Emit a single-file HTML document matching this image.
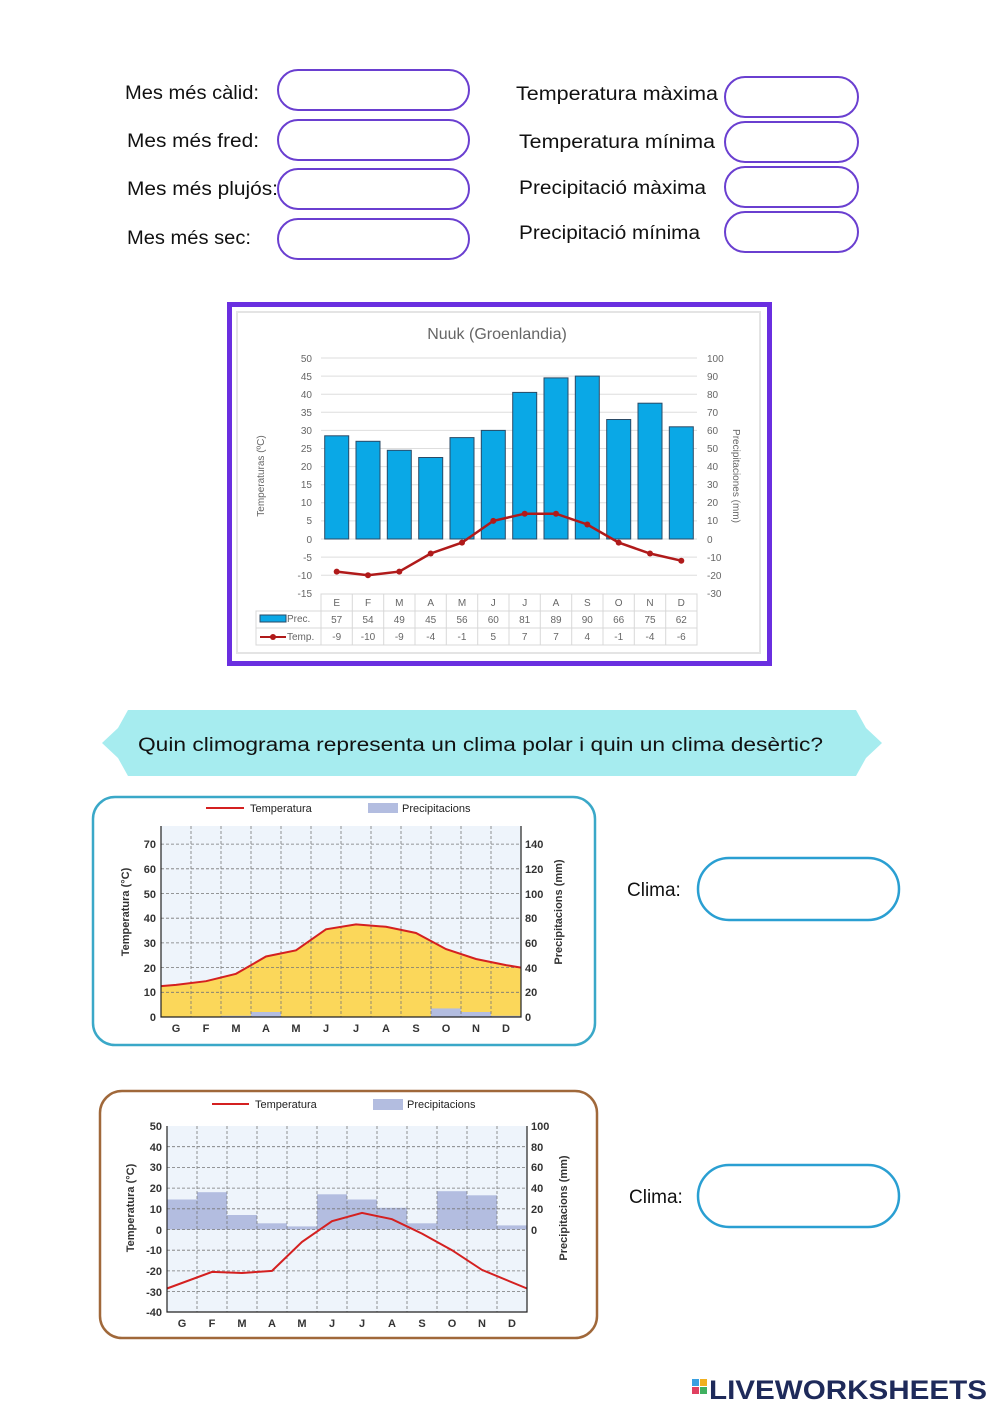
<!DOCTYPE html>
<html><head><meta charset="utf-8"><style>
html,body{margin:0;padding:0;background:#fff;}
svg{display:block;}
.h{font-family:"Liberation Sans",sans-serif;font-size:19px;fill:#111;}
.t{font-family:"Liberation Sans",sans-serif;font-size:10px;fill:#666;}
.b{font-family:"Liberation Sans",sans-serif;font-size:11px;font-weight:bold;fill:#333;}
</style></head><body>
<svg width="999" height="1415" viewBox="0 0 999 1415" xmlns="http://www.w3.org/2000/svg">
<rect width="999" height="1415" fill="#fff"/>
<!-- form -->
<g fill="none" stroke="#6a3fd0" stroke-width="2">
<rect x="278" y="70" width="191" height="40" rx="20"/>
<rect x="278" y="120" width="191" height="40" rx="20"/>
<rect x="278" y="169" width="191" height="40" rx="20"/>
<rect x="278" y="219" width="191" height="40" rx="20"/>
<rect x="725" y="77" width="133" height="40" rx="20"/>
<rect x="725" y="122" width="133" height="40" rx="20"/>
<rect x="725" y="167" width="133" height="40" rx="20"/>
<rect x="725" y="212" width="133" height="40" rx="20"/>
</g>
<text class="h" x="125" y="99" textLength="134" lengthAdjust="spacingAndGlyphs">Mes més càlid:</text>
<text class="h" x="127" y="147" textLength="132" lengthAdjust="spacingAndGlyphs">Mes més fred:</text>
<text class="h" x="127" y="195" textLength="151" lengthAdjust="spacingAndGlyphs">Mes més plujós:</text>
<text class="h" x="127" y="244" textLength="124" lengthAdjust="spacingAndGlyphs">Mes més sec:</text>
<text class="h" x="516" y="100" textLength="202" lengthAdjust="spacingAndGlyphs">Temperatura màxima</text>
<text class="h" x="519" y="148" textLength="196" lengthAdjust="spacingAndGlyphs">Temperatura mínima</text>
<text class="h" x="519" y="194" textLength="187" lengthAdjust="spacingAndGlyphs">Precipitació màxima</text>
<text class="h" x="519" y="239" textLength="181" lengthAdjust="spacingAndGlyphs">Precipitació mínima</text>

<!-- Nuuk chart -->
<rect x="229.5" y="304.5" width="540" height="359" fill="#fff" stroke="#6a2fe0" stroke-width="5"/>
<rect x="237" y="312" width="523" height="341" fill="none" stroke="#e4e4e4" stroke-width="2"/>
<text x="497" y="339" text-anchor="middle" font-family="Liberation Sans,sans-serif" font-size="16" fill="#666">Nuuk (Groenlandia)</text>
<g stroke="#dedede" stroke-width="1">
<line x1="321" x2="697" y1="358" y2="358"/><line x1="321" x2="697" y1="376.1" y2="376.1"/><line x1="321" x2="697" y1="394.2" y2="394.2"/><line x1="321" x2="697" y1="412.3" y2="412.3"/><line x1="321" x2="697" y1="430.4" y2="430.4"/><line x1="321" x2="697" y1="448.5" y2="448.5"/><line x1="321" x2="697" y1="466.6" y2="466.6"/><line x1="321" x2="697" y1="484.7" y2="484.7"/><line x1="321" x2="697" y1="502.8" y2="502.8"/><line x1="321" x2="697" y1="520.9" y2="520.9"/><line x1="321" x2="697" y1="539" y2="539"/><line x1="321" x2="697" y1="557.1" y2="557.1"/><line x1="321" x2="697" y1="575.2" y2="575.2"/>
</g>
<g class="t" text-anchor="end">
<text x="312" y="362">50</text><text x="312" y="380">45</text><text x="312" y="398">40</text><text x="312" y="416">35</text><text x="312" y="434">30</text><text x="312" y="452">25</text><text x="312" y="470">20</text><text x="312" y="488">15</text><text x="312" y="506">10</text><text x="312" y="524">5</text><text x="312" y="543">0</text><text x="312" y="561">-5</text><text x="312" y="579">-10</text><text x="312" y="597">-15</text>
</g>
<g class="t" text-anchor="start">
<text x="707" y="362">100</text><text x="707" y="380">90</text><text x="707" y="398">80</text><text x="707" y="416">70</text><text x="707" y="434">60</text><text x="707" y="452">50</text><text x="707" y="470">40</text><text x="707" y="488">30</text><text x="707" y="506">20</text><text x="707" y="524">10</text><text x="707" y="543">0</text><text x="707" y="561">-10</text><text x="707" y="579">-20</text><text x="707" y="597">-30</text>
</g>
<text class="t" transform="translate(264,476) rotate(-90)" text-anchor="middle" font-size="11">Temperaturas (ºC)</text>
<text class="t" transform="translate(733,476) rotate(90)" text-anchor="middle" font-size="11">Precipitaciones (mm)</text>
<g fill="#0aa8e6" stroke="#2a4a66" stroke-width="1">
<rect x="324.7" y="435.8" width="24" height="103.2"/><rect x="356" y="441.3" width="24" height="97.7"/><rect x="387.3" y="450.3" width="24" height="88.7"/><rect x="418.7" y="457.5" width="24" height="81.5"/><rect x="450" y="437.6" width="24" height="101.4"/><rect x="481.3" y="430.4" width="24" height="108.6"/><rect x="512.7" y="392.4" width="24" height="146.6"/><rect x="544" y="377.9" width="24" height="161.1"/><rect x="575.3" y="376.1" width="24" height="162.9"/><rect x="606.7" y="419.5" width="24" height="119.5"/><rect x="638" y="403.2" width="24" height="135.8"/><rect x="669.3" y="426.8" width="24" height="112.2"/>
</g>
<polyline fill="none" stroke="#b01a1a" stroke-width="2.5" points="336.7,571.6 368,575.2 399.3,571.6 430.7,553.5 462,542.6 493.3,520.9 524.7,513.7 556,513.7 587.3,524.5 618.7,542.6 650,553.5 681.3,560.7"/>
<g fill="#b01a1a">
<circle cx="336.7" cy="571.6" r="3"/><circle cx="368" cy="575.2" r="3"/><circle cx="399.3" cy="571.6" r="3"/><circle cx="430.7" cy="553.5" r="3"/><circle cx="462" cy="542.6" r="3"/><circle cx="493.3" cy="520.9" r="3"/><circle cx="524.7" cy="513.7" r="3"/><circle cx="556" cy="513.7" r="3"/><circle cx="587.3" cy="524.5" r="3"/><circle cx="618.7" cy="542.6" r="3"/><circle cx="650" cy="553.5" r="3"/><circle cx="681.3" cy="560.7" r="3"/>
</g>
<!-- table -->
<g stroke="#d8d8d8" stroke-width="1" fill="none">
<rect x="321" y="594" width="376" height="51"/>
<line x1="256" y1="611" x2="697" y2="611"/><line x1="256" y1="628" x2="697" y2="628"/>
<rect x="256" y="611" width="65" height="34"/>
<line x1="352.3" y1="594" x2="352.3" y2="645"/><line x1="383.7" y1="594" x2="383.7" y2="645"/><line x1="415" y1="594" x2="415" y2="645"/><line x1="446.3" y1="594" x2="446.3" y2="645"/><line x1="477.7" y1="594" x2="477.7" y2="645"/><line x1="509" y1="594" x2="509" y2="645"/><line x1="540.3" y1="594" x2="540.3" y2="645"/><line x1="571.7" y1="594" x2="571.7" y2="645"/><line x1="603" y1="594" x2="603" y2="645"/><line x1="634.3" y1="594" x2="634.3" y2="645"/><line x1="665.7" y1="594" x2="665.7" y2="645"/>
</g>
<rect x="260" y="615" width="26" height="7" fill="#0aa8e6" stroke="#2a4a66"/>
<text class="t" x="287" y="622">Prec.</text>
<line x1="260" y1="637" x2="286" y2="637" stroke="#b01a1a" stroke-width="2"/><circle cx="273" cy="637" r="3" fill="#b01a1a"/>
<text class="t" x="287" y="640">Temp.</text>
<g class="t" text-anchor="middle">
<text x="336.7" y="606">E</text><text x="368" y="606">F</text><text x="399.3" y="606">M</text><text x="430.7" y="606">A</text><text x="462" y="606">M</text><text x="493.3" y="606">J</text><text x="524.7" y="606">J</text><text x="556" y="606">A</text><text x="587.3" y="606">S</text><text x="618.7" y="606">O</text><text x="650" y="606">N</text><text x="681.3" y="606">D</text>
<text x="336.7" y="623">57</text><text x="368" y="623">54</text><text x="399.3" y="623">49</text><text x="430.7" y="623">45</text><text x="462" y="623">56</text><text x="493.3" y="623">60</text><text x="524.7" y="623">81</text><text x="556" y="623">89</text><text x="587.3" y="623">90</text><text x="618.7" y="623">66</text><text x="650" y="623">75</text><text x="681.3" y="623">62</text>
<text x="336.7" y="640">-9</text><text x="368" y="640">-10</text><text x="399.3" y="640">-9</text><text x="430.7" y="640">-4</text><text x="462" y="640">-1</text><text x="493.3" y="640">5</text><text x="524.7" y="640">7</text><text x="556" y="640">7</text><text x="587.3" y="640">4</text><text x="618.7" y="640">-1</text><text x="650" y="640">-4</text><text x="681.3" y="640">-6</text>
</g>

<!-- banner -->
<path d="M128,710 L856,710 L866,728 L882,743 L866,758 L856,776 L128,776 L118,758 L102,743 L118,728 Z" fill="#a6ecef"/>
<text class="h" x="138" y="751" font-size="21" textLength="685" lengthAdjust="spacingAndGlyphs">Quin climograma representa un clima polar i quin un clima desèrtic?</text>

<!-- chart 2 -->
<rect x="93" y="797" width="502" height="248" rx="22" fill="#fff" stroke="#3aa8c8" stroke-width="2.5"/>
<rect x="161" y="826" width="360" height="191" fill="#eef4fb"/>
<path d="M161,986.1 L176,984.9 206,981.2 236,973.8 266,956.5 296,950.3 326,929.3 356,924.4 386,926.8 416,933 446,949.1 476,959 506,965.1 521,967.6 L521,1017 L161,1017 Z" fill="#fbd75a"/>
<g fill="#b3bde0">
<rect x="221" y="1015.8" width="30" height="1.2"/><rect x="251" y="1012" width="30" height="5"/><rect x="431" y="1008.4" width="30" height="8.6"/><rect x="461" y="1012" width="30" height="5"/><rect x="491" y="1015.8" width="30" height="1.2"/>
</g>
<g stroke="#777" stroke-width="0.8" stroke-dasharray="3,2">
<line x1="191" y1="826" x2="191" y2="1017"/><line x1="221" y1="826" x2="221" y2="1017"/><line x1="251" y1="826" x2="251" y2="1017"/><line x1="281" y1="826" x2="281" y2="1017"/><line x1="311" y1="826" x2="311" y2="1017"/><line x1="341" y1="826" x2="341" y2="1017"/><line x1="371" y1="826" x2="371" y2="1017"/><line x1="401" y1="826" x2="401" y2="1017"/><line x1="431" y1="826" x2="431" y2="1017"/><line x1="461" y1="826" x2="461" y2="1017"/><line x1="491" y1="826" x2="491" y2="1017"/>
<line x1="161" y1="992.3" x2="521" y2="992.3"/><line x1="161" y1="967.6" x2="521" y2="967.6"/><line x1="161" y1="942.9" x2="521" y2="942.9"/><line x1="161" y1="918.2" x2="521" y2="918.2"/><line x1="161" y1="893.5" x2="521" y2="893.5"/><line x1="161" y1="868.8" x2="521" y2="868.8"/><line x1="161" y1="844.1" x2="521" y2="844.1"/>
</g>
<polyline fill="none" stroke="#d42020" stroke-width="2" points="161,986.1 176,984.9 206,981.2 236,973.8 266,956.5 296,950.3 326,929.3 356,924.4 386,926.8 416,933 446,949.1 476,959 506,965.1 521,967.6"/>
<path d="M161,826 V1017 H521 V826" fill="none" stroke="#222" stroke-width="1.2"/>
<line x1="206" y1="808" x2="244" y2="808" stroke="#d42020" stroke-width="2"/>
<text x="250" y="812" font-family="Liberation Sans,sans-serif" font-size="11" fill="#222">Temperatura</text>
<rect x="368" y="803" width="30" height="10" fill="#b3bde0"/>
<text x="402" y="812" font-family="Liberation Sans,sans-serif" font-size="11" fill="#222">Precipitacions</text>
<g class="b" text-anchor="end">
<text x="156" y="1021">0</text><text x="156" y="996">10</text><text x="156" y="972">20</text><text x="156" y="947">30</text><text x="156" y="922">40</text><text x="156" y="898">50</text><text x="156" y="873">60</text><text x="156" y="848">70</text>
</g>
<g class="b">
<text x="525" y="1021">0</text><text x="525" y="996">20</text><text x="525" y="972">40</text><text x="525" y="947">60</text><text x="525" y="922">80</text><text x="525" y="898">100</text><text x="525" y="873">120</text><text x="525" y="848">140</text>
</g>
<text class="b" transform="translate(129,912) rotate(-90)" text-anchor="middle" font-weight="normal">Temperatura (°C)</text>
<text class="b" transform="translate(562,912) rotate(-90)" text-anchor="middle" font-weight="normal">Precipitacions (mm)</text>
<g class="b" text-anchor="middle">
<text x="176" y="1032">G</text><text x="206" y="1032">F</text><text x="236" y="1032">M</text><text x="266" y="1032">A</text><text x="296" y="1032">M</text><text x="326" y="1032">J</text><text x="356" y="1032">J</text><text x="386" y="1032">A</text><text x="416" y="1032">S</text><text x="446" y="1032">O</text><text x="476" y="1032">N</text><text x="506" y="1032">D</text>
</g>

<!-- chart 3 -->
<rect x="100" y="1091" width="497" height="247" rx="22" fill="#fff" stroke="#a0683a" stroke-width="2.5"/>
<rect x="167" y="1126" width="360" height="186" fill="#eef4fb"/>
<g fill="#b3bde0">
<rect x="167" y="1199.5" width="30" height="30"/><rect x="197" y="1192.2" width="30" height="37.3"/><rect x="227" y="1215" width="30" height="14.5"/><rect x="257" y="1223.3" width="30" height="6.2"/><rect x="287" y="1226.4" width="30" height="3.1"/><rect x="317" y="1194.3" width="30" height="35.2"/><rect x="347" y="1199.5" width="30" height="30"/><rect x="377" y="1207.8" width="30" height="21.7"/><rect x="407" y="1223.3" width="30" height="6.2"/><rect x="437" y="1191.2" width="30" height="38.3"/><rect x="467" y="1195.3" width="30" height="34.2"/><rect x="497" y="1225.4" width="30" height="4.1"/>
</g>
<g stroke="#777" stroke-width="0.8" stroke-dasharray="3,2">
<line x1="197" y1="1126" x2="197" y2="1312"/><line x1="227" y1="1126" x2="227" y2="1312"/><line x1="257" y1="1126" x2="257" y2="1312"/><line x1="287" y1="1126" x2="287" y2="1312"/><line x1="317" y1="1126" x2="317" y2="1312"/><line x1="347" y1="1126" x2="347" y2="1312"/><line x1="377" y1="1126" x2="377" y2="1312"/><line x1="407" y1="1126" x2="407" y2="1312"/><line x1="437" y1="1126" x2="437" y2="1312"/><line x1="467" y1="1126" x2="467" y2="1312"/><line x1="497" y1="1126" x2="497" y2="1312"/>
<line x1="167" y1="1146.7" x2="527" y2="1146.7"/><line x1="167" y1="1167.4" x2="527" y2="1167.4"/><line x1="167" y1="1188.1" x2="527" y2="1188.1"/><line x1="167" y1="1208.8" x2="527" y2="1208.8"/><line x1="167" y1="1229.5" x2="527" y2="1229.5"/><line x1="167" y1="1250.2" x2="527" y2="1250.2"/><line x1="167" y1="1270.9" x2="527" y2="1270.9"/><line x1="167" y1="1291.6" x2="527" y2="1291.6"/>
</g>
<polyline fill="none" stroke="#d42020" stroke-width="2" points="167,1288.5 212,1271.9 242,1273 272,1270.9 302,1241.9 332,1221.2 362,1212.9 392,1219.2 422,1233.6 452,1250.2 482,1269.9 527,1288.5"/>
<path d="M167,1126 V1312 H527 V1126" fill="none" stroke="#222" stroke-width="1.2"/>
<line x1="212" y1="1104" x2="249" y2="1104" stroke="#d42020" stroke-width="2"/>
<text x="255" y="1108" font-family="Liberation Sans,sans-serif" font-size="11" fill="#222">Temperatura</text>
<rect x="373" y="1099" width="30" height="11" fill="#b3bde0"/>
<text x="407" y="1108" font-family="Liberation Sans,sans-serif" font-size="11" fill="#222">Precipitacions</text>
<g class="b" text-anchor="end">
<text x="162" y="1130">50</text><text x="162" y="1151">40</text><text x="162" y="1171">30</text><text x="162" y="1192">20</text><text x="162" y="1213">10</text><text x="162" y="1234">0</text><text x="162" y="1254">-10</text><text x="162" y="1275">-20</text><text x="162" y="1296">-30</text><text x="162" y="1316">-40</text>
</g>
<g class="b">
<text x="531" y="1130">100</text><text x="531" y="1151">80</text><text x="531" y="1171">60</text><text x="531" y="1192">40</text><text x="531" y="1213">20</text><text x="531" y="1234">0</text>
</g>
<text class="b" transform="translate(134,1208) rotate(-90)" text-anchor="middle" font-weight="normal">Temperatura (°C)</text>
<text class="b" transform="translate(567,1208) rotate(-90)" text-anchor="middle" font-weight="normal">Precipitacions (mm)</text>
<g class="b" text-anchor="middle">
<text x="182" y="1327">G</text><text x="212" y="1327">F</text><text x="242" y="1327">M</text><text x="272" y="1327">A</text><text x="302" y="1327">M</text><text x="332" y="1327">J</text><text x="362" y="1327">J</text><text x="392" y="1327">A</text><text x="422" y="1327">S</text><text x="452" y="1327">O</text><text x="482" y="1327">N</text><text x="512" y="1327">D</text>
</g>

<!-- clima -->
<text class="h" x="627" y="896">Clima:</text>
<rect x="698" y="858" width="201" height="62" rx="31" fill="none" stroke="#2a9fd2" stroke-width="2.5"/>
<text class="h" x="629" y="1203">Clima:</text>
<rect x="698" y="1165" width="201" height="62" rx="31" fill="none" stroke="#2a9fd2" stroke-width="2.5"/>

<!-- logo -->
<rect x="692" y="1379" width="7" height="7" fill="#3aa0e0"/><rect x="700" y="1379" width="7" height="7" fill="#f0b020"/>
<rect x="692" y="1387" width="7" height="7" fill="#e04060"/><rect x="700" y="1387" width="7" height="7" fill="#40b060"/>
<text x="709" y="1399" font-family="Liberation Sans,sans-serif" font-size="27" font-weight="bold" fill="#1e2a5a" textLength="278" lengthAdjust="spacingAndGlyphs">LIVEWORKSHEETS</text>
</svg>
</body></html>
